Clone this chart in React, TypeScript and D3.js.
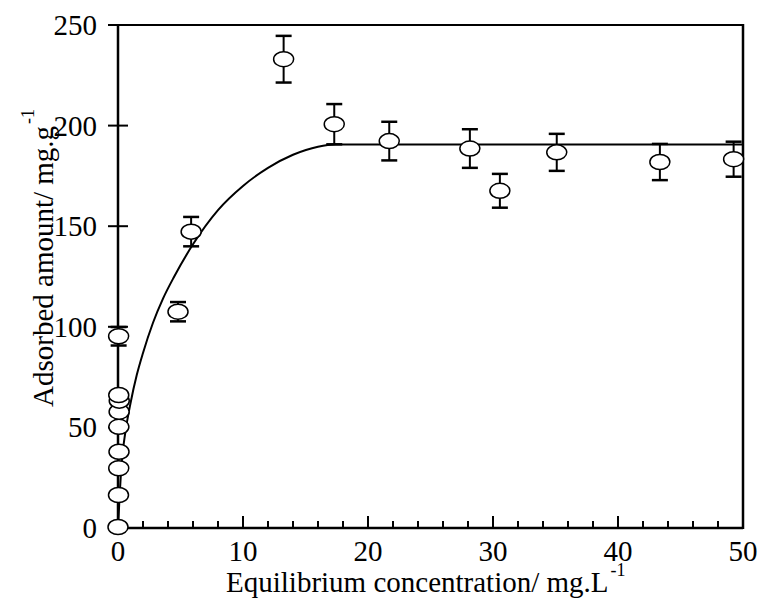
import React from "react";
import * as d3 from "d3";

// measured points (concentration, amount, error)
const conc = [0, 0.04, 0.06, 0.08, 0.07, 0.09, 0.1, 0.06, 0.05, 4.8, 5.85, 13.25, 17.3, 21.7, 28.15, 30.55, 35.1, 43.35, 49.25];
const adsorbed = [0.5, 16.4, 29.7, 37.9, 50.3, 57.8, 63.3, 66.1, 95.3, 107.5, 147.3, 233, 200.7, 192.3, 188.6, 167.6, 186.7, 181.9, 183.3];
const errs = [0, 0, 0, 0, 0, 0, 0, 0, 4.6, 4.8, 7.3, 11.6, 10, 9.6, 9.6, 8.4, 9.2, 9, 8.7];

// fitted curve
const fitX = [0, 0.3, 0.6, 1.0, 1.5, 2.0, 2.8, 3.6, 4.5, 6.0, 8.0, 10, 12, 14, 16, 17.4, 50];
const fitY = [0, 33, 48, 62, 76, 87, 102, 114, 125, 141, 158, 170, 179, 185.5, 189.5, 190.6, 190.6];

const xMajor = [0, 10, 20, 30, 40, 50];
const xMinor = d3.range(2, 50, 2).filter(v => v % 10 !== 0);
const yTicks = [0, 50, 100, 150, 200, 250];

const W = 762, H = 603;
const left = 118, right = 743, top = 25, bottom = 528;
const font = "'Liberation Serif', 'Times New Roman', serif";

const App = () => {
  const x = d3.scaleLinear().domain([0, 50]).range([left, right]);
  const y = d3.scaleLinear().domain([0, 250]).range([bottom, top]);

  const fit = fitX.map((v, i) => [v, fitY[i]] as [number, number]);
  const line = d3.line<[number, number]>().x(d => x(d[0])).y(d => y(d[1])).curve(d3.curveMonotoneX);
  const pts = conc.map((v, i) => ({ x: v, y: adsorbed[i], e: errs[i] }));

  return (
    <div style={{ position: "absolute", left: 0, top: 0, background: "#fff" }}>
      <svg width={W} height={H} style={{ fontFamily: font }}>
        {/* frame */}
        <line x1={left} x2={right} y1={top} y2={top} stroke="#000" strokeWidth={2} />
        <line x1={right} x2={right} y1={top - 1} y2={bottom + 1} stroke="#000" strokeWidth={2.5} />
        <line x1={left} x2={right} y1={bottom} y2={bottom} stroke="#000" strokeWidth={2.5} />
        <line x1={left} x2={left} y1={top - 1} y2={bottom + 1} stroke="#000" strokeWidth={2.5} />

        {/* x ticks */}
        {xMinor.map(d => (
          <line key={"m" + d} x1={x(d)} x2={x(d)} y1={bottom} y2={bottom - 7} stroke="#000" strokeWidth={2} />
        ))}
        {xMajor.slice(1, -1).map(d => (
          <line key={"M" + d} x1={x(d)} x2={x(d)} y1={bottom} y2={bottom - 12} stroke="#000" strokeWidth={2} />
        ))}
        {xMajor.map(d => (
          <text key={"xl" + d} x={x(d)} y={bottom + 33} textAnchor="middle" fontSize={29}>{d}</text>
        ))}

        {/* y ticks */}
        {yTicks.slice(1).map(d => (
          <line key={"y" + d} x1={left - 10} x2={left + 10} y1={y(d)} y2={y(d)} stroke="#000" strokeWidth={2} />
        ))}
        {yTicks.map(d => (
          <text key={"yl" + d} x={left - 21} y={y(d) + 10} textAnchor="end" fontSize={29}>{d}</text>
        ))}

        {/* fitted curve */}
        <path d={line(fit) ?? ""} fill="none" stroke="#000" strokeWidth={2} />

        {/* error bars */}
        {pts.filter(p => p.e > 0).map((p, i) => (
          <g key={"e" + i} stroke="#000">
            <line x1={x(p.x)} x2={x(p.x)} y1={y(p.y - p.e)} y2={y(p.y + p.e)} strokeWidth={2} />
            <line x1={x(p.x) - 8} x2={x(p.x) + 8} y1={y(p.y + p.e)} y2={y(p.y + p.e)} strokeWidth={2.5} />
            <line x1={x(p.x) - 8} x2={x(p.x) + 8} y1={y(p.y - p.e)} y2={y(p.y - p.e)} strokeWidth={2.5} />
          </g>
        ))}

        {/* markers */}
        {pts.map((p, i) => (
          <ellipse key={"p" + i} cx={x(p.x)} cy={y(p.y)} rx={10} ry={7.5} fill="#fff" stroke="#000" strokeWidth={1.5} />
        ))}

        {/* axis titles */}
        <text x={226} y={592} fontSize={29}>
          Equilibrium concentration/ mg.L
          <tspan fontSize={18} dx={2} dy={-16}>-1</tspan>
        </text>
        <text transform="translate(53,407) rotate(-90)" fontSize={29}>
          Adsorbed amount/ mg.g
          <tspan fontSize={18} dx={2} dy={-19}>-1</tspan>
        </text>
      </svg>
    </div>
  );
};

export default App;
